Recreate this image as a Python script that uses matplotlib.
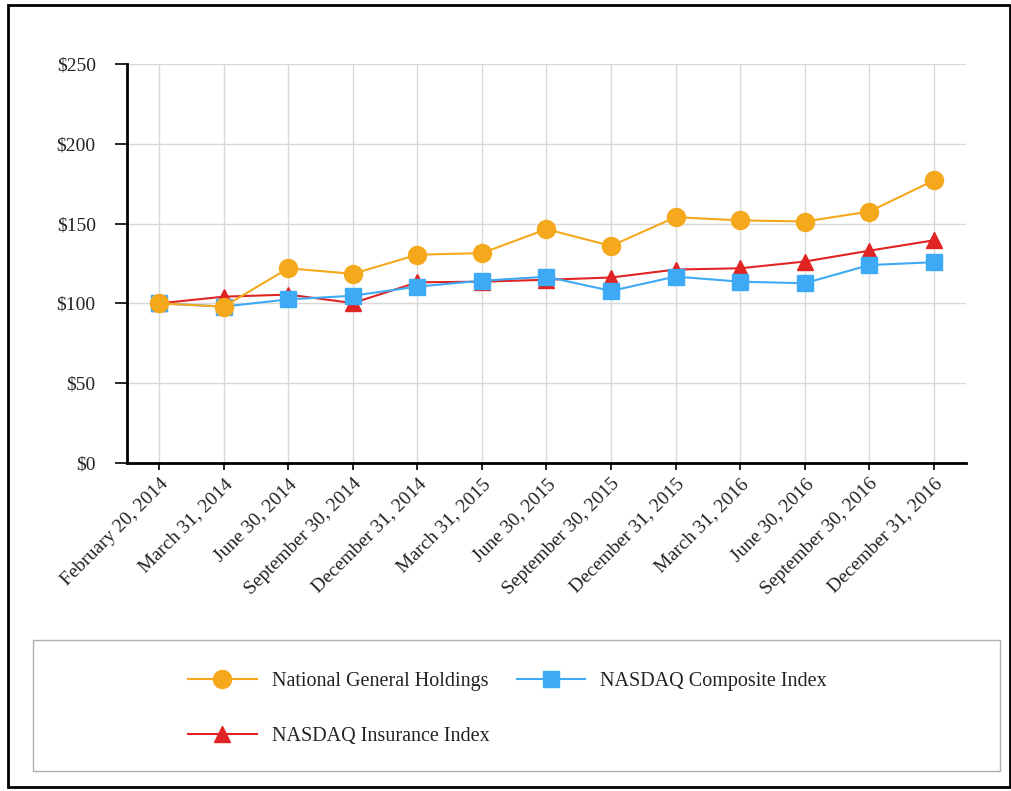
import matplotlib
matplotlib.use("Agg")
import matplotlib.pyplot as plt
from matplotlib.patches import Rectangle

# values (cumulative return on $100)
dates = ["February 20, 2014", "March 31, 2014", "June 30, 2014",
         "September 30, 2014", "December 31, 2014", "March 31, 2015",
         "June 30, 2015", "September 30, 2015", "December 31, 2015",
         "March 31, 2016", "June 30, 2016", "September 30, 2016",
         "December 31, 2016"]
national_general = [100, 98, 122, 118.5, 130.5, 131.5, 146.5, 136, 154, 152, 151.3, 157.5, 177]
nasdaq_composite = [100, 98, 102.5, 104.8, 110.5, 114.2, 116.7, 107.8, 116.8, 113.6, 112.6, 124, 125.8]
nasdaq_insurance = [100, 104.2, 105.5, 100.2, 113.2, 113.6, 114.8, 116.2, 121.2, 122, 126.2, 133, 139.5]
yticks = [0, 50, 100, 150, 200, 250]

ORANGE = "#f5a81c"
BLUE = "#3eaaf5"
RED = "#e02424"

plt.rcParams["font.family"] = ["Liberation Serif", "DejaVu Serif"]

fig = plt.figure(figsize=(10.12, 7.91), dpi=100)
ax = fig.add_axes([0.1255, 0.4147, 0.829, 0.5044])

x = list(range(len(dates)))
ax.plot(x, national_general, color=ORANGE, lw=1.5, marker="o", ms=13,
        label="National General Holdings", zorder=5)
ax.plot(x, nasdaq_insurance, color=RED, lw=1.5, marker="^", ms=11,
        label="NASDAQ Insurance Index", zorder=3)
ax.plot(x, nasdaq_composite, color=BLUE, lw=1.5, marker="s", ms=11,
        label="NASDAQ Composite Index", zorder=4)

ax.set_xlim(-0.5, len(dates) - 0.5)
ax.set_ylim(0, 250)
ax.set_yticks(yticks)
ax.set_yticklabels([f"${v}" for v in yticks], fontsize=14, color="#222222")
ax.set_xticks(x)
ax.set_xticklabels(dates, rotation=45, ha="right", rotation_mode="anchor",
                   fontsize=14, color="#222222")
ax.tick_params(axis="y", length=8.5, width=1.2, pad=14)
ax.tick_params(axis="x", length=5, width=1.2, pad=4)
ax.grid(True, color="#d8d8d8", lw=1.0)
ax.set_axisbelow(True)
for side in ("top", "right"):
    ax.spines[side].set_visible(False)
for side in ("left", "bottom"):
    ax.spines[side].set_linewidth(2)
    ax.spines[side].set_color("black")

# legend box below the plot
fig.patches.append(Rectangle((33 / 1012, 1 - 771 / 791), 967 / 1012, 131 / 791,
                             transform=fig.transFigure, fill=False,
                             edgecolor="#b0b0b0", lw=1.0))
handles, labels = ax.get_legend_handles_labels()
leg = fig.legend(handles, labels, ncol=2, loc="upper left",
                 bbox_to_anchor=(170 / 1012, 1 - 654 / 791), frameon=False,
                 fontsize=14.5, handlelength=3.4, handletextpad=0.75,
                 columnspacing=1.35, labelspacing=1.75)
for t in leg.get_texts():
    t.set_color("#222222")

# outer frame
fig.patches.append(Rectangle((8 / 1012, 1 - 787 / 791), 1002 / 1012, 782 / 791,
                             transform=fig.transFigure, fill=False,
                             edgecolor="black", lw=2))

fig.savefig("out.png", dpi=100)
